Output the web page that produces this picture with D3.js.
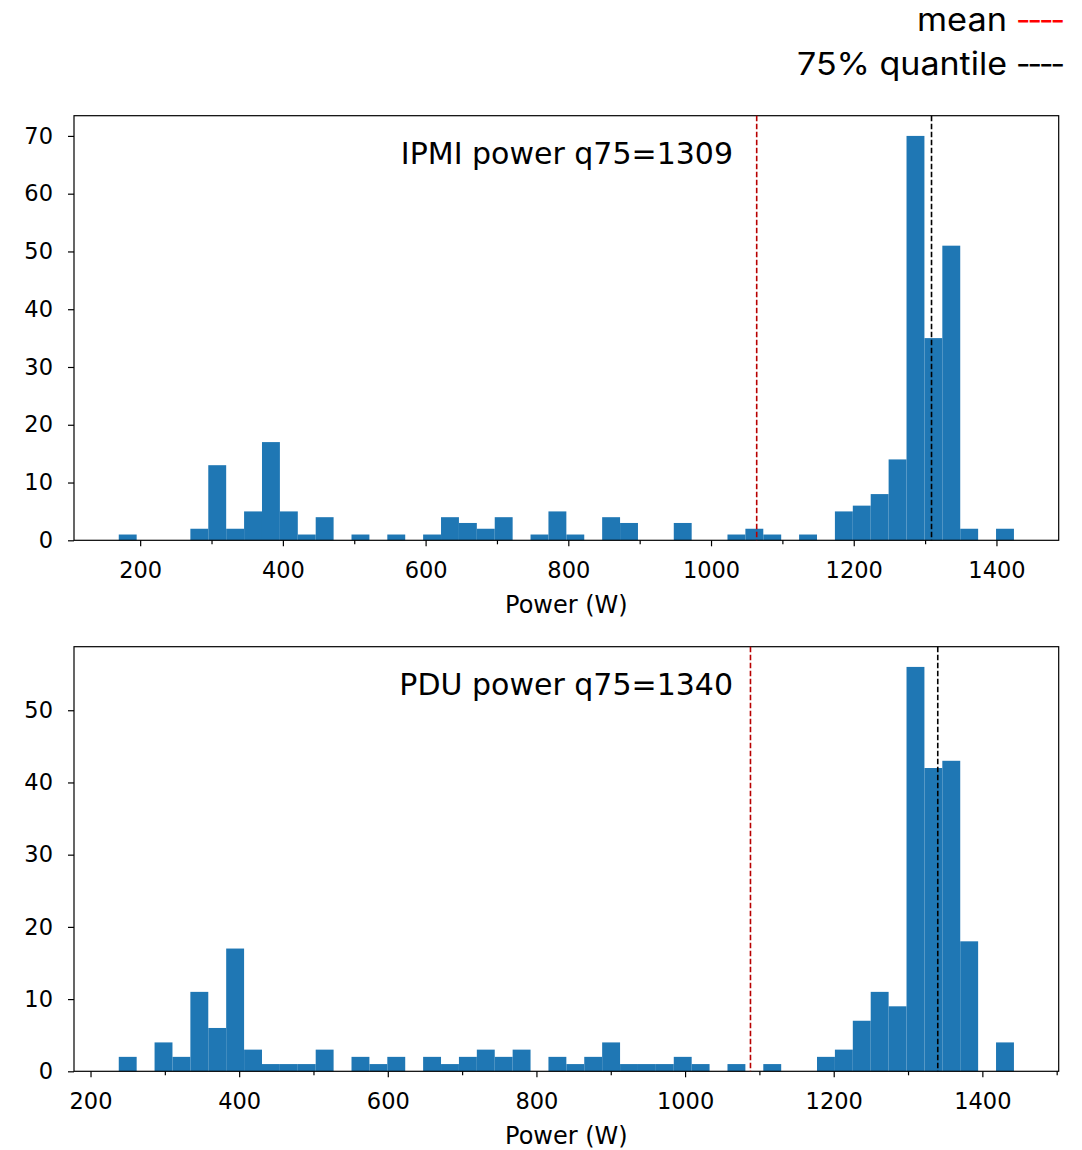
<!DOCTYPE html>
<html>
<head>
<meta charset="utf-8">
<script src="https://cdn.jsdelivr.net/npm/d3@7"></script>
<style>
  body { margin: 0; background: #fff; }
  svg { display: block; }
</style>
</head>
<body>
<div id="root"></div>
<script>
// histogram counts, 50 equal bins between min and max
var ipmiCounts = [1, 0, 0, 0, 2, 13, 2, 5, 17, 5, 1, 4, 0, 1, 0, 1, 0, 1, 4, 3,
  2, 4, 0, 1, 5, 1, 0, 4, 3, 0, 0, 3, 0, 0, 1, 2, 1, 0, 1, 0,
  5, 6, 8, 14, 70, 35, 51, 2, 0, 2];
var ipmiRange = [170, 1424.5];
var ipmiMean = 1064;
var ipmiQ75 = 1309;

var pduCounts = [2, 0, 4, 2, 11, 6, 17, 3, 1, 1, 1, 3, 0, 2, 1, 2, 0, 2, 1, 2,
  3, 2, 3, 0, 2, 1, 2, 4, 1, 1, 1, 2, 1, 0, 1, 0, 1, 0, 0, 2,
  3, 7, 11, 9, 56, 42, 43, 18, 0, 4];
var pduRange = [238, 1442.5];
var pduMean = 1088;
var pduQ75 = 1340;

var xTicks = [200, 400, 600, 800, 1000, 1200, 1400];
var xMinorTicks = [100, 300, 500, 700, 900, 1100, 1300, 1500];
var ipmiYTicks = [0, 10, 20, 30, 40, 50, 60, 70];
var pduYTicks = [0, 10, 20, 30, 40, 50];

var W = 1082, H = 1150;
var svg = d3.select('#root')
  .append('svg')
    .attr('width', W)
    .attr('height', H);

var drawPanel = (counts, range, mean, q75, yTicks, title, top) => {
  var left = 74, right = 1058.7, bottom = top + 424.6;
  var n = counts.length;
  var step = (range[1] - range[0]) / n;
  var bins = counts.map((c, i) => ({ x0: range[0] + i * step, x1: range[0] + (i + 1) * step, count: c }));
  var pad = (range[1] - range[0]) * 0.05;

  var xScale = d3.scaleLinear()
    .domain([range[0] - pad, range[1] + pad])
    .range([left, right]);

  var yScale = d3.scaleLinear()
    .domain([0, d3.max(counts) * 1.05])
    .range([bottom, top]);

  var g = svg.append('g');

  g.selectAll('rect.bar')
    .data(bins)
    .enter()
    .append('rect')
      .attr('class', 'bar')
      .attr('x', d => xScale(d.x0))
      .attr('width', d => xScale(d.x1) - xScale(d.x0))
      .attr('y', d => yScale(d.count))
      .attr('height', d => yScale(0) - yScale(d.count))
      .attr('fill', '#1f77b4');

  var xAxisCall = d3.axisBottom(xScale)
    .tickValues(xTicks)
    .tickSize(6)
    .tickPadding(16)
    .tickFormat(d3.format('d'));

  var xAxis = g.append('g')
    .attr('transform', 'translate(0, ' + bottom + ')')
    .call(xAxisCall);

  var minor = xMinorTicks.filter(t => xScale(t) >= left && xScale(t) <= right);
  g.append('g')
    .attr('transform', 'translate(0, ' + bottom + ')')
    .call(d3.axisBottom(xScale).tickValues(minor).tickSize(4).tickFormat(''))
    .select('.domain').remove();

  var yAxisCall = d3.axisLeft(yScale)
    .tickValues(yTicks)
    .tickSize(6)
    .tickPadding(15)
    .tickFormat(d3.format('d'));

  var yAxis = g.append('g')
    .attr('transform', 'translate(' + left + ', 0)')
    .call(yAxisCall);

  [xAxis, yAxis].forEach(a => {
    a.select('.domain').remove();
    a.selectAll('text')
      .attr('font-family', 'DejaVu Sans')
      .attr('font-size', '22.5px')
      .attr('fill', '#000');
  });
  g.selectAll('.tick line').attr('stroke', '#000').attr('stroke-width', 1.2);

  // frame
  g.append('rect')
    .attr('x', left)
    .attr('y', top)
    .attr('width', right - left)
    .attr('height', bottom - top)
    .attr('fill', 'none')
    .attr('stroke', '#000')
    .attr('stroke-width', 1.2);

  g.append('line')
    .attr('x1', xScale(mean)).attr('x2', xScale(mean))
    .attr('y1', top).attr('y2', bottom)
    .attr('stroke', '#b80000')
    .attr('stroke-width', 1.6)
    .attr('stroke-dasharray', '5.5,2.5');

  g.append('line')
    .attr('x1', xScale(q75)).attr('x2', xScale(q75))
    .attr('y1', top).attr('y2', bottom)
    .attr('stroke', '#000')
    .attr('stroke-width', 1.6)
    .attr('stroke-dasharray', '5.5,2.5');

  g.append('text')
    .attr('x', 733)
    .attr('y', top + 48.5)
    .attr('text-anchor', 'end')
    .attr('font-family', 'DejaVu Sans')
    .attr('font-size', '30px')
    .attr('fill', '#000')
    .text(title);

  g.append('text')
    .attr('x', (left + right) / 2)
    .attr('y', bottom + 73)
    .attr('text-anchor', 'middle')
    .attr('font-family', 'DejaVu Sans')
    .attr('font-size', '24px')
    .attr('fill', '#000')
    .text('Power (W)');
};

drawPanel(ipmiCounts, ipmiRange, ipmiMean, ipmiQ75, ipmiYTicks, 'IPMI power q75=' + ipmiQ75, 115.7);
drawPanel(pduCounts, pduRange, pduMean, pduQ75, pduYTicks, 'PDU power q75=' + pduQ75, 646.7);

// legend added above the panels
var legend = [
  { label: 'mean', color: '#ff0000', y: 31, width: 90 },
  { label: '75% quantile', color: '#000', y: 75, width: 210 }
];

legend.forEach(d => {
  svg.append('text')
    .attr('x', 1007)
    .attr('y', d.y)
    .attr('text-anchor', 'end')
    .attr('font-family', 'Inter')
    .attr('font-size', '31.5px')
    .attr('fill', '#000')
    .attr('textLength', d.width)
    .attr('lengthAdjust', 'spacingAndGlyphs')
    .text(d.label);
  svg.append('text')
    .attr('x', 1016)
    .attr('y', d.y)
    .attr('font-family', 'Inter')
    .attr('font-size', '31.5px')
    .attr('fill', d.color)
    .attr('textLength', 49)
    .text('----');
});
</script>
</body>
</html>
